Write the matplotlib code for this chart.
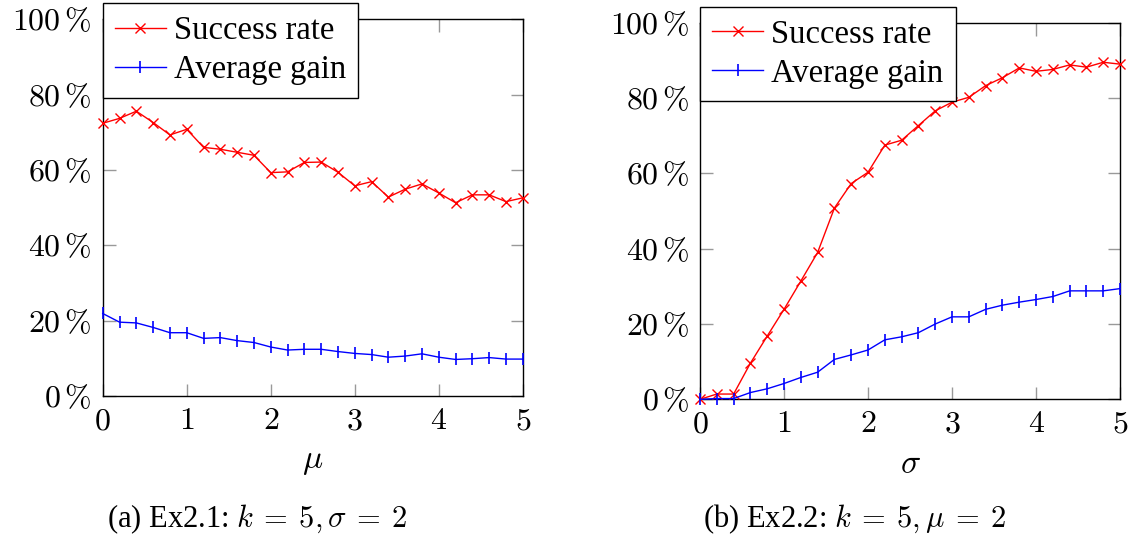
import matplotlib
matplotlib.use("Agg")
import matplotlib.pyplot as plt

plt.rcParams["font.family"] = "serif"
plt.rcParams["font.serif"] = ["Liberation Serif", "DejaVu Serif"]
plt.rcParams["mathtext.fontset"] = "cm"

# x positions shared by both experiments
x_vals = [0.0, 0.2, 0.4, 0.6, 0.8, 1.0, 1.2, 1.4, 1.6, 1.8, 2.0, 2.2, 2.4,
          2.6, 2.8, 3.0, 3.2, 3.4, 3.6, 3.8, 4.0, 4.2, 4.4, 4.6, 4.8, 5.0]

# Ex2.1 (vary mu)
success_a = [72.4, 73.7, 75.6, 72.6, 69.3, 70.8, 66.0, 65.5, 64.7, 63.9, 59.3,
             59.5, 62.0, 62.1, 59.4, 55.8, 56.9, 52.8, 54.9, 56.3, 53.9, 51.3,
             53.4, 53.4, 51.6, 52.6]
gain_a = [21.9, 19.6, 19.4, 18.2, 16.8, 16.8, 15.3, 15.5, 14.7, 14.2, 13.0,
          12.2, 12.4, 12.4, 11.8, 11.3, 11.0, 10.3, 10.6, 11.2, 10.3, 9.7,
          9.9, 10.2, 9.8, 9.8]

# Ex2.2 (vary sigma)
success_b = [0.0, 1.4, 1.4, 9.6, 16.8, 23.9, 31.4, 39.0, 50.8, 57.3, 60.3,
             67.5, 68.8, 72.7, 76.6, 78.9, 80.2, 83.3, 85.4, 88.0, 87.1, 87.6,
             88.8, 88.2, 89.5, 89.0]
gain_b = [0.0, 0.2, 0.2, 1.8, 2.8, 4.2, 5.8, 7.2, 10.6, 11.8, 13.1, 15.8,
          16.6, 17.7, 20.0, 21.9, 21.9, 23.9, 25.0, 25.8, 26.5, 27.3, 28.8,
          28.8, 28.8, 29.4]

x_ticks = [0, 1, 2, 3, 4, 5]
y_ticks = [0, 20, 40, 60, 80, 100]
y_ticklabels = [r"$%d\,\%%$" % v for v in y_ticks]

fig = plt.figure(figsize=(11.34, 5.36), dpi=100)
ax_a = fig.add_axes([0.0906, 0.2612, 0.3704, 0.7028])
ax_b = fig.add_axes([0.6173, 0.2550, 0.3704, 0.7026])

panels = [
    (ax_a, success_a, gain_a, r"$\mu$",
     r"(a) Ex2.1: $k\:=\:5,\sigma\:=\:2$", 257),
    (ax_b, success_b, gain_b, r"$\sigma$",
     r"(b) Ex2.2: $k\:=\:5,\mu\:=\:2$", 855),
]

for ax, succ, gain, xlab, caption, cx in panels:
    ax.plot(x_vals, succ, color="red", lw=1.0, marker="x", ms=6.5, mew=1.0,
            label="Success rate", clip_on=False, zorder=3)
    ax.plot(x_vals, gain, color="blue", lw=1.0, marker="|", ms=9, mew=1.2,
            label="Average gain", clip_on=False, zorder=3)

    ax.set_xlim(0, 5)
    ax.set_ylim(0, 100)
    ax.set_xticks(x_ticks)
    ax.set_xticklabels([r"$%d$" % v for v in x_ticks])
    ax.set_yticks(y_ticks)
    ax.set_yticklabels(y_ticklabels)
    ax.tick_params(direction="in", length=9, width=1.0, color="0.6",
                   top=True, right=True, labelsize=23, pad=8)
    for sp in ax.spines.values():
        sp.set_linewidth(1.0)

    ax.set_xlabel(xlab, fontsize=24, va="center")
    ax.xaxis.set_label_coords(0.5, -0.175)

    leg = ax.legend(loc="upper left", bbox_to_anchor=(0.0, 1.042),
                    borderaxespad=0, fontsize=23.5, fancybox=False,
                    framealpha=1, edgecolor="black", handlelength=1.55,
                    handletextpad=0.25, labelspacing=0.26, borderpad=0.38)
    leg.get_frame().set_linewidth(1.0)

    fig.text(cx / 1134, 1 - 519 / 536, caption, fontsize=22,
             ha="center", va="center")

fig.savefig("out.png", dpi=100)
